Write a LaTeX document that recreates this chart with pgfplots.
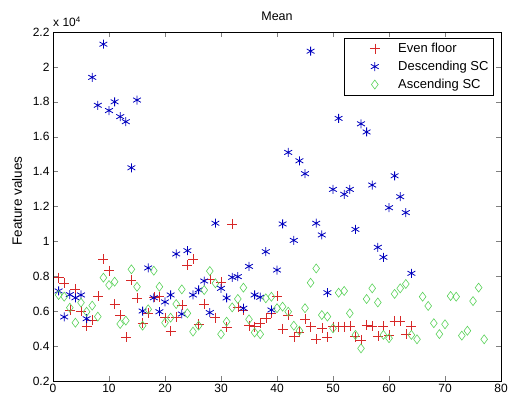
\documentclass[border=0pt]{standalone}
\usepackage{pgfplots}
\pgfplotsset{compat=1.18}
\usetikzlibrary{calc}
\usepackage{fontspec}
\setmainfont{Liberation Sans}
\definecolor{mred}{RGB}{215,40,40}
\definecolor{mblue}{RGB}{0,0,190}
\definecolor{mgreen}{RGB}{90,210,90}
\begin{document}
\begin{tikzpicture}
\begin{axis}[
  scale only axis,
  width=448pt, height=349pt,
  xmin=0, xmax=80, ymin=0.2, ymax=2.2,
  xtick={0,10,...,80},
  ytick={0.2,0.4,...,2.2},
  tick align=inside,
  major tick length=5pt,
  /pgf/number format/assume math mode=true,
  tick label style={font=\fontsize{12}{14}\selectfont},
  yticklabel style={/pgf/number format/fixed,/pgf/number format/precision=1},
  ylabel={Feature values},
  ylabel style={font=\fontsize{13.5}{15}\selectfont, at={(axis description cs:-0.080,0.516)}, anchor=center},
  legend style={at={(0.984,0.983)}, anchor=north east, font=\fontsize{13}{15}\selectfont, inner xsep=3pt, inner ysep=3pt, row sep=3pt, draw=black, line width=0.6pt},
  legend cell align=left,
  legend image code/.code={\path (0,0) (48pt,0); \draw[#1, only marks] plot coordinates {(27pt,0pt)};},
  axis line style={line width=0.6pt},
]
\addplot[only marks, mark=+, mark size=5pt, color=mred, line width=0.5pt] coordinates {
(1,0.792)(2,0.763)(3,0.607)(4,0.727)(5,0.601)(6,0.515)(7,0.55)(8,0.687)(9,0.899)(10,0.832)
(11,0.641)(12,0.578)(13,0.45)(14,0.779)(15,0.677)(16,0.531)(17,0.588)(18,0.68)(19,0.683)(20,0.563)
(21,0.487)(22,0.568)(23,0.636)(24,0.865)(25,0.897)(26,0.525)(27,0.64)(28,0.783)(29,0.563)(30,0.767)
(31,0.508)(32,1.10)(33,0.622)(34,0.607)(35,0.517)(36,0.511)(37,0.531)(38,0.559)(39,0.59)(40,0.687)
(41,0.498)(42,0.578)(43,0.454)(44,0.479)(45,0.553)(46,0.511)(47,0.439)(48,0.502)(49,0.45)(50,0.511)
(51,0.511)(52,0.511)(53,0.514)(54,0.454)(55,0.435)(56,0.521)(57,0.514)(58,0.458)(59,0.514)(60,0.464)
(61,0.544)(62,0.544)(63,0.469)(64,0.515)
};
\addlegendentry{Even floor}
\addplot[only marks, mark=asterisk, mark size=4.5pt, color=mblue, line width=0.8pt] coordinates {
(1,0.716)(2,0.567)(3,0.695)(4,0.677)(5,0.693)(6,0.557)(7,1.94)(8,1.78)(9,2.13)(10,1.75)
(11,1.80)(12,1.715)(13,1.686)(14,1.422)(15,1.81)(16,0.601)(17,0.848)(18,0.677)(19,0.597)(20,0.653)
(21,0.693)(22,0.928)(23,0.584)(24,0.947)(25,0.693)(26,0.722)(27,0.773)(28,0.592)(29,1.104)(30,0.731)
(31,0.676)(32,0.794)(33,0.798)(34,0.617)(35,0.857)(36,0.693)(37,0.68)(38,0.941)(39,0.607)(40,0.836)
(41,1.10)(42,1.51)(43,1.006)(44,1.462)(45,1.388)(46,2.09)(47,1.104)(48,1.037)(49,0.706)(50,1.298)
(51,1.705)(52,1.27)(53,1.298)(54,1.069)(55,1.674)(56,1.627)(57,1.323)(58,0.966)(59,0.909)(60,1.193)
(61,1.376)(62,1.256)(63,1.165)(64,0.817)
};
\addlegendentry{Descending SC}
\addplot[only marks, mark=diamond, mark size=4.5pt, color=mgreen, line width=0.6pt] coordinates {
(1,0.693)(2,0.683)(3,0.62)(4,0.534)(5,0.649)(6,0.597)(7,0.632)(8,0.569)(9,0.792)(10,0.75)
(11,0.769)(12,0.527)(13,0.546)(14,0.84)(15,0.74)(16,0.517)(17,0.611)(18,0.832)(19,0.74)(20,0.534)
(21,0.563)(22,0.641)(23,0.725)(24,0.588)(25,0.483)(26,0.517)(27,0.721)(28,0.83)(29,0.76)(30,0.468)
(31,0.54)(32,0.622)(33,0.67)(34,0.735)(35,0.553)(36,0.478)(37,0.468)(38,0.674)(39,0.683)(40,0.617)
(41,0.626)(42,0.597)(43,0.517)(44,0.488)(45,0.617)(46,0.763)(47,0.845)(48,0.578)(49,0.569)(50,0.502)
(51,0.706)(52,0.716)(53,0.588)(54,0.464)(55,0.387)(56,0.67)(57,0.731)(58,0.65)(59,0.464)(60,0.445)
(61,0.699)(62,0.731)(63,0.756)(64,0.464)(65,0.439)(66,0.683)(67,0.63)(68,0.531)(69,0.469)(70,0.525)
(71,0.687)(72,0.683)(73,0.46)(74,0.488)(75,0.658)(76,0.735)(77,0.439)
};
\addlegendentry{Ascending SC}
\end{axis}
\node[anchor=base, inner sep=0pt, font=\fontsize{12.5}{14}\selectfont] at ($(current axis.north)+(0pt,11pt)$) {Mean};
\node[anchor=base west, inner sep=0pt, font=\fontsize{12}{14}\selectfont] at ($(current axis.north west)+(0pt,5pt)$) {x 10\textsuperscript{4}};
\pgfresetboundingbox
\path[use as bounding box] ($(current axis.south west)+(-53pt,-17pt)$) rectangle ($(current axis.north east)+(7pt,32pt)$);
\end{tikzpicture}
\end{document}
